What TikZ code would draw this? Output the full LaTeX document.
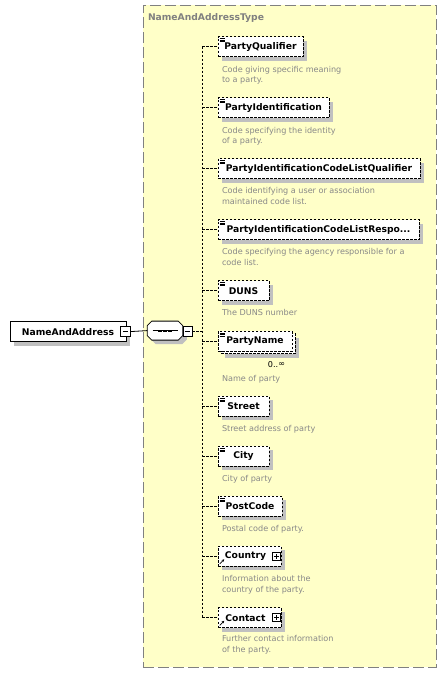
\documentclass[tikz,border=0pt]{standalone}
\usepackage{fontspec}
\setmainfont{DejaVu Sans}
\usetikzlibrary{shadows,arrows.meta}
\definecolor{typebg}{RGB}{255,255,200}
\definecolor{typeline}{RGB}{128,128,128}
\definecolor{titlegray}{RGB}{128,128,128}
\definecolor{descgray}{RGB}{136,136,136}
\definecolor{shadowgray}{RGB}{192,192,192}
\begin{document}
\begin{tikzpicture}[x=1pt,y=-1pt,
  every node/.style={inner sep=0pt,outer sep=0pt},
  shad/.style={drop shadow={opacity=1,fill=shadowgray,shadow xshift=4pt,shadow yshift=-4pt}},
  namefont/.style={font=\fontsize{9.2}{10}\selectfont\bfseries},
  descr/.style={font=\fontsize{8.1}{10.7}\selectfont,text=descgray,anchor=base west,align=left},
  elembase/.style={draw,dash pattern=on 2.5pt off 1.5pt,line width=0.8pt,fill=white,namefont,minimum height=20pt,minimum width=#1,anchor=west},
  elem/.style={elembase=#1,shad},
  simple/.style={path picture={\foreach \k in {2,3.5,5} \draw[solid,line width=0.5pt] ([shift={(1.5pt,-\k pt)}]path picture bounding box.north west) -- ++(5,0);}},
  refer/.style={path picture={\draw[solid,line width=0.8pt,-{Stealth[length=2.6pt,width=2.6pt]}] ([shift={(1.8pt,-17.5pt)}]path picture bounding box.north west) -- ++(4.5,-4.5);}},
  rootbox/.style={draw,line width=0.8pt,fill=white,shad,namefont,minimum height=20pt,minimum width=#1,anchor=west},
  minusbox/.style={draw,line width=0.8pt,fill=white,minimum size=9.5pt,
     path picture={\draw[line width=0.8pt] ([xshift=2pt]path picture bounding box.west) -- ([xshift=-2pt]path picture bounding box.east);}},
  plusbox/.style={draw,solid,line width=0.8pt,fill=white,minimum size=8pt,
     path picture={\draw[line width=0.7pt] ([xshift=1.5pt]path picture bounding box.west) -- ([xshift=-1.5pt]path picture bounding box.east);
                   \draw[line width=0.7pt] ([yshift=-1.5pt]path picture bounding box.north) -- ([yshift=1.5pt]path picture bounding box.south);}},
  seqarea/.style={minimum width=35.5pt,minimum height=19pt},
  seqoutline/.style={draw,line width=0.8pt,fill=white,shad},
  conn/.style={dash pattern=on 2.5pt off 1.5pt,line width=0.8pt},
  solidconn/.style={line width=0.8pt},
  typeframe/.style={draw=typeline,fill=typebg,line width=0.8pt,dash pattern=on 11pt off 4pt,anchor=north west},
  titlefont/.style={font=\fontsize{9.2}{10}\selectfont\bfseries,text=titlegray,anchor=base west}
]
\useasboundingbox (0,0) rectangle (447,673);

% type frame
\node[typeframe,minimum width=293pt,minimum height=662pt] (type) at (143,5) {};
\node[titlefont] (title) at (148,20.7) {NameAndAddressType};

% root
\node[rootbox=116pt] (root) at (10,331.6) {NameAndAddress};
\node[minusbox] (rootm) at (125.5,331.4) {};

% sequence compositor
\node[seqarea] (seq) at (165,330.6) {};
\path[seqoutline] ([xshift=4.5pt]seq.north west) -- ([xshift=-4.5pt]seq.north east)
   -- ([yshift=-4.5pt]seq.north east) -- ([yshift=4.5pt]seq.south east)
   -- ([xshift=-4.5pt]seq.south east) -- ([xshift=4.5pt]seq.south west)
   -- ([yshift=4.5pt]seq.south west) -- ([yshift=-4.5pt]seq.north west) -- cycle;
\draw[line width=0.7pt] ([xshift=-12.5pt]seq.center) -- ([xshift=12.5pt]seq.center);
\foreach \dx in {-5,0,5}
  \fill ([shift={(\dx pt-1.7pt,-1.1pt)}]seq.center) rectangle ([shift={(\dx pt+1.7pt,1.1pt)}]seq.center);
\node[minusbox] (seqm) at (187.7,331.4) {};

\coordinate (spinetop) at (202,46.5);
\coordinate (spinebot) at (202,617.8);

% children
\node[elem=85pt,simple] (pq) at (218,46.5) {PartyQualifier};
\node[descr] (pqd) at (222,82.9) {Code giving specific meaning\\to a party.};

\node[elem=111pt,simple] (pi) at (218,107.5) {PartyIdentification};
\node[descr] (pid) at (222,143.7) {Code specifying the identity\\of a party.};

\node[elem=202pt,simple] (piq) at (218,168.5) {PartyIdentificationCodeListQualifier};
\node[descr] (piqd) at (222,204.4) {Code identifying a user or association\\maintained code list.};

\node[elem=201pt,simple] (pir) at (218,229.5) {PartyIdentificationCodeListRespo...};
\node[descr] (pird) at (222,265.2) {Code specifying the agency responsible for a\\code list.};

\node[elem=51pt,simple] (duns) at (218,290.7) {DUNS};
\node[descr] (dunsd) at (222,315.3) {The DUNS number};

\node[elem=74pt] (pnback) at (221,343.6) {};
\node[elembase=74pt,simple] (pn) at (218,341) {PartyName};
\node[font=\fontsize{8.1}{10}\selectfont,anchor=base east] (pnocc) at (285,367) {0..\raisebox{0.2pt}{∞}};
\node[descr] (pnd) at (222,381) {Name of party};

\node[elem=51pt,simple] (street) at (218,406.3) {Street};
\node[descr] (streetd) at (222,431) {Street address of party};

\node[elem=51pt,simple] (city) at (218,456.3) {City};
\node[descr] (cityd) at (222,481) {City of party};

\node[elem=64pt,simple] (pc) at (218,506.3) {PostCode};
\node[descr] (pcd) at (222,531) {Postal code of party.};

\node[elem=63pt,refer] (co) at (218,556.3) {Country\hspace*{8pt}};
\node[plusbox] (cop) at ([xshift=-4.5pt]co.east) {};
\node[descr] (cod) at (222,592.4) {Information about the\\country of the party.};

\node[elem=63pt,refer] (ct) at (218,617.8) {Contact\hspace*{8pt}};
\node[plusbox] (ctp) at ([xshift=-4.5pt]ct.east) {};
\node[descr] (ctd) at (222,652.6) {Further contact information\\of the party.};

% connectors
\draw[solidconn] (root.east -| rootm.east) -- (seq.west);
\draw[conn] (seqm.east) -- (seqm.east -| spinetop);
\draw[conn] (spinetop) -- (spinebot);
\foreach \n in {pq,pi,piq,pir,duns,pn,street,city,pc,co,ct}
  \draw[conn] (\n.west -| spinetop) -- (\n.west);
\end{tikzpicture}
\end{document}
